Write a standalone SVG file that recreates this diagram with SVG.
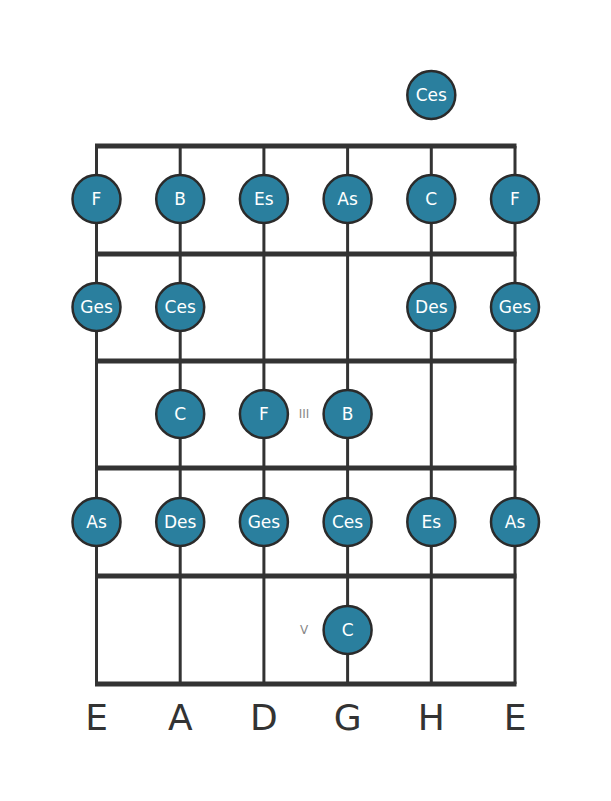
<svg xmlns="http://www.w3.org/2000/svg" width="611" height="801" viewBox="0 0 611 801">
<style>
.str{stroke:#333;stroke-width:3;fill:none}
.fret{stroke:#333;stroke-width:5;fill:none}
.note circle{fill:#2a7f9e;stroke:#2b2b2b;stroke-width:2.5}
.note text{fill:#fff;font-family:"DejaVu Sans",sans-serif;font-size:17px;text-anchor:middle;dominant-baseline:central}
.mark{fill:#888;font-family:"DejaVu Sans",sans-serif;font-size:12px;text-anchor:middle;dominant-baseline:central}
.lab{fill:#333;font-family:"DejaVu Sans",sans-serif;font-size:36px;text-anchor:middle}
</style>
<rect width="611" height="801" fill="#fff"/>
<g id="connectors">
<line class="str" x1="96.5" y1="146" x2="96.5" y2="684"/>
<line class="str" x1="180.2" y1="146" x2="180.2" y2="684"/>
<line class="str" x1="263.9" y1="146" x2="263.9" y2="684"/>
<line class="str" x1="347.6" y1="146" x2="347.6" y2="684"/>
<line class="str" x1="431.3" y1="146" x2="431.3" y2="684"/>
<line class="str" x1="515" y1="146" x2="515" y2="684"/>
<line class="fret" x1="95" y1="146" x2="516.5" y2="146"/>
<line class="fret" x1="95" y1="254" x2="516.5" y2="254"/>
<line class="fret" x1="95" y1="361" x2="516.5" y2="361"/>
<line class="fret" x1="95" y1="468" x2="516.5" y2="468"/>
<line class="fret" x1="95" y1="576" x2="516.5" y2="576"/>
<line class="fret" x1="95" y1="684" x2="516.5" y2="684"/>
</g>
<g id="markers">
<text class="mark" x="304" y="414">III</text>
<text class="mark" x="304" y="630">V</text>
</g>
<g id="n0"><g class="note"><circle cx="431.3" cy="95" r="24"/><text x="431.3" y="95">Ces</text></g></g>
<g id="n1"><g class="note"><circle cx="96.5" cy="199" r="24"/><text x="96.5" y="199">F</text></g></g>
<g id="n2"><g class="note"><circle cx="180.2" cy="199" r="24"/><text x="180.2" y="199">B</text></g></g>
<g id="n3"><g class="note"><circle cx="263.9" cy="199" r="24"/><text x="263.9" y="199">Es</text></g></g>
<g id="n4"><g class="note"><circle cx="347.6" cy="199" r="24"/><text x="347.6" y="199">As</text></g></g>
<g id="n5"><g class="note"><circle cx="431.3" cy="199" r="24"/><text x="431.3" y="199">C</text></g></g>
<g id="n6"><g class="note"><circle cx="515" cy="199" r="24"/><text x="515" y="199">F</text></g></g>
<g id="n7"><g class="note"><circle cx="96.5" cy="307" r="24"/><text x="96.5" y="307">Ges</text></g></g>
<g id="n8"><g class="note"><circle cx="180.2" cy="307" r="24"/><text x="180.2" y="307">Ces</text></g></g>
<g id="n9"><g class="note"><circle cx="431.3" cy="307" r="24"/><text x="431.3" y="307">Des</text></g></g>
<g id="n10"><g class="note"><circle cx="515" cy="307" r="24"/><text x="515" y="307">Ges</text></g></g>
<g id="n11"><g class="note"><circle cx="180.2" cy="414" r="24"/><text x="180.2" y="414">C</text></g></g>
<g id="n12"><g class="note"><circle cx="263.9" cy="414" r="24"/><text x="263.9" y="414">F</text></g></g>
<g id="n13"><g class="note"><circle cx="347.6" cy="414" r="24"/><text x="347.6" y="414">B</text></g></g>
<g id="n14"><g class="note"><circle cx="96.5" cy="522" r="24"/><text x="96.5" y="522">As</text></g></g>
<g id="n15"><g class="note"><circle cx="180.2" cy="522" r="24"/><text x="180.2" y="522">Des</text></g></g>
<g id="n16"><g class="note"><circle cx="263.9" cy="522" r="24"/><text x="263.9" y="522">Ges</text></g></g>
<g id="n17"><g class="note"><circle cx="347.6" cy="522" r="24"/><text x="347.6" y="522">Ces</text></g></g>
<g id="n18"><g class="note"><circle cx="431.3" cy="522" r="24"/><text x="431.3" y="522">Es</text></g></g>
<g id="n19"><g class="note"><circle cx="515" cy="522" r="24"/><text x="515" y="522">As</text></g></g>
<g id="n20"><g class="note"><circle cx="347.6" cy="630" r="24"/><text x="347.6" y="630">C</text></g></g>
<g id="labels">
<text class="lab" x="96.5" y="730">E</text>
<text class="lab" x="180.2" y="730">A</text>
<text class="lab" x="263.9" y="730">D</text>
<text class="lab" x="347.6" y="730">G</text>
<text class="lab" x="431.3" y="730">H</text>
<text class="lab" x="515" y="730">E</text>
</g>
</svg>
